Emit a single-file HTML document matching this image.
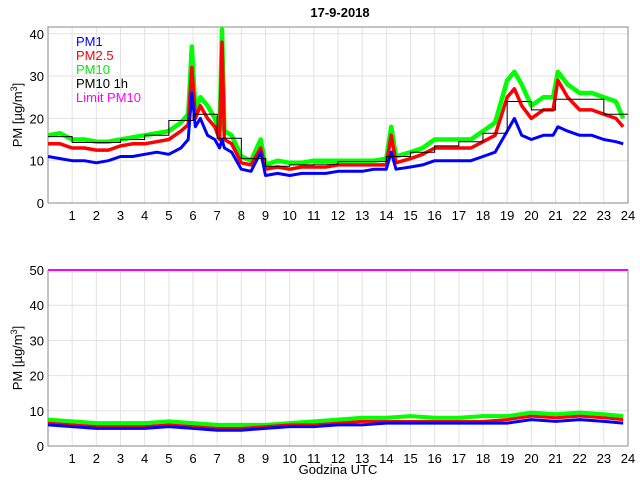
<!DOCTYPE html>
<html><head><meta charset="utf-8"><style>
body{margin:0;background:#fff}
svg{display:block;font-family:"Liberation Sans",sans-serif}
</style></head><body>
<svg id="c" width="640" height="480" xmlns="http://www.w3.org/2000/svg">
<rect width="640" height="480" fill="#fff"/>
<text x="340" y="17" text-anchor="middle" font-size="13" font-weight="bold">17-9-2018</text>
<g id="top"></g>
<g id="bot"></g>
<text transform="translate(22,115) rotate(-90)" text-anchor="middle" font-size="13">PM [µg/m<tspan dy="-5" font-size="9">3</tspan><tspan dy="5">]</tspan></text>
<text transform="translate(22,358) rotate(-90)" text-anchor="middle" font-size="13">PM [µg/m<tspan dy="-5" font-size="9">3</tspan><tspan dy="5">]</tspan></text>
<text x="338" y="474" text-anchor="middle" font-size="13">Godzina UTC</text>
<g font-size="13">
<text x="76" y="46" fill="#0000ff">PM1</text>
<text x="76" y="60" fill="#ff0000">PM2.5</text>
<text x="76" y="74" fill="#00ee00">PM10</text>
<text x="76" y="88" fill="#000">PM10 1h</text>
<text x="76" y="102" fill="#ff00ff">Limit PM10</text>
</g>
</svg>
<script>
const topTimes=[0,0.5,1,1.5,2,2.5,3,3.5,4,4.5,5,5.5,5.8,5.95,6.1,6.3,6.6,6.9,7.1,7.2,7.3,7.6,8,8.4,8.8,9,9.5,10,10.5,11,11.5,12,12.5,13,13.5,14,14.2,14.4,15,15.5,16,16.5,17,17.5,18,18.5,19,19.3,19.6,20,20.5,20.9,21.1,21.5,22,22.5,23,23.5,23.8];
const topPM10=[16,16.5,15,15,14.5,14.5,15,15.5,16,16.5,17,19,21,37,22,25,23,20,17,41,17,16,11,10,15,9,10,9.5,9.5,10,10,10,10,10,10,10.5,18,11,12,13,15,15,15,15,17,19,29,31,28,23,25,25,31,28,26,26,25,24,20];
const topPM25=[14,14,13,13,12.5,12.5,13.5,14,14,14.5,15,17,18.5,32,20,23,20,18,15,38,15,14,9.5,9,13,8,8.5,8,8.5,8.5,8.5,9,9,9,9,9,16,9.5,10.5,11.5,13,13,13,13,14.5,16,25,27,23,20,22,22,29,25,22,22,21,20,18];
const topPM1=[11,10.5,10,10,9.5,10,11,11,11.5,12,11.5,13,15,26,18,20,16,15,13,15,13,12,8,7.5,12,6.5,7,6.5,7,7,7,7.5,7.5,7.5,8,8,12,8,8.5,9,10,10,10,10,11,12,17,20,16,15,16,16,18,17,16,16,15,14.5,14];
const hourlyPM10=[15.7,14.3,14.3,15,16,19.5,21,15.3,10.5,8.7,9,9.2,9.8,9.8,11,12,13.5,14.5,16.5,24,22,24.5,24.5,21];
const botTimes=[0,1,2,3,4,5,6,7,8,9,10,11,12,13,14,15,16,17,18,19,20,21,22,23,23.8];
const botPM10=[7.5,7,6.5,6.5,6.5,7,6.5,6,6,6,6.5,7,7.5,8,8,8.5,8,8,8.5,8.5,9.5,9,9.5,9,8.5];
const botPM25=[6.5,6,5.5,5.5,5.5,6,5.5,5,5,5.5,6,6,6.5,7,7,7,7,7,7,7.5,8.5,8,8.5,8,7.5];
const botPM1=[6,5.5,5,5,5,5.5,5,4.5,4.5,5,5.5,5.5,6,6,6.5,6.5,6.5,6.5,6.5,6.5,7.5,7,7.5,7,6.5];
const limitPM10=50;
const xTicks=[1,2,3,4,5,6,7,8,9,10,11,12,13,14,15,16,17,18,19,20,21,22,23,24];
const topYTicks=[0,10,20,30,40];
const botYTicks=[0,10,20,30,40,50];

const NS='http://www.w3.org/2000/svg';
const X0=48,X1=628;
const xs=t=>X0+(X1-X0)*t/24;
function mk(tag,attrs,parent){const e=document.createElementNS(NS,tag);for(const k in attrs)e.setAttribute(k,attrs[k]);parent.appendChild(e);return e;}
function panel(g,yTop,yBot,ymax,yTicks,name){
  const ys=v=>yBot-(yBot-yTop)*v/ymax;
  for(const t of xTicks){const l=mk('line',{x1:xs(t),x2:xs(t),y1:yTop,y2:yBot,stroke:'#e2e2e2'},g);
    
    
    const tx=mk('text',{x:xs(t),y:yBot+17,'text-anchor':'middle','font-size':13},g);tx.textContent=t;
    
    }
  for(const v of yTicks){if(v>0&&v<ymax){const l=mk('line',{x1:X0,x2:X1,y1:ys(v),y2:ys(v),stroke:'#e2e2e2'},g);
    
    }
    const tx=mk('text',{x:X0-4,y:ys(v)+5,'text-anchor':'end','font-size':13},g);tx.textContent=v;
    
    }
  const b=mk('rect',{x:X0,y:yTop,width:X1-X0,height:yBot-yTop,fill:'none',stroke:'#8a8a8a'},g);
  
  
  return ys;
}
function line(g,times,vals,ys,color,w,name){
  const n=Math.min(times.length,vals.length);let d='';
  for(let i=0;i<n;i++)d+=(i?'L':'M')+xs(times[i]).toFixed(1)+','+ys(vals[i]).toFixed(1);
  const p=mk('path',{d:d,fill:'none',stroke:color,'stroke-width':w,'stroke-linejoin':'round'},g);
  
  
}
const gt=document.getElementById('top'),gb=document.getElementById('bot');
const ysT=panel(gt,27,203,41.6,topYTicks,'top');
line(gt,topTimes,topPM10,ysT,'#00ff00',4.5,'pm10-line');
line(gt,topTimes,topPM25,ysT,'#ff0000',3.5,'pm25-line');
line(gt,topTimes,topPM1,ysT,'#0000ff',3,'pm1-line');
let d='';
hourlyPM10.forEach((v,i)=>{d+=(i?'L':'M')+xs(i)+','+ysT(v).toFixed(1)+'L'+xs(i+1)+','+ysT(v).toFixed(1);});
const st=mk('path',{d:d,fill:'none',stroke:'#000','stroke-width':1},gt);


const ysB=panel(gb,270,446,50,botYTicks,'bottom');
line(gb,botTimes,botPM10,ysB,'#00ff00',4,'bottom-pm10-line');
line(gb,botTimes,botPM25,ysB,'#ff0000',3,'bottom-pm25-line');
line(gb,botTimes,botPM1,ysB,'#0000ff',3,'bottom-pm1-line');
const lim=mk('line',{x1:X0,x2:X1,y1:ysB(limitPM10),y2:ysB(limitPM10),stroke:'#ff00ff','stroke-width':2},gb);


</script>
</body></html>
